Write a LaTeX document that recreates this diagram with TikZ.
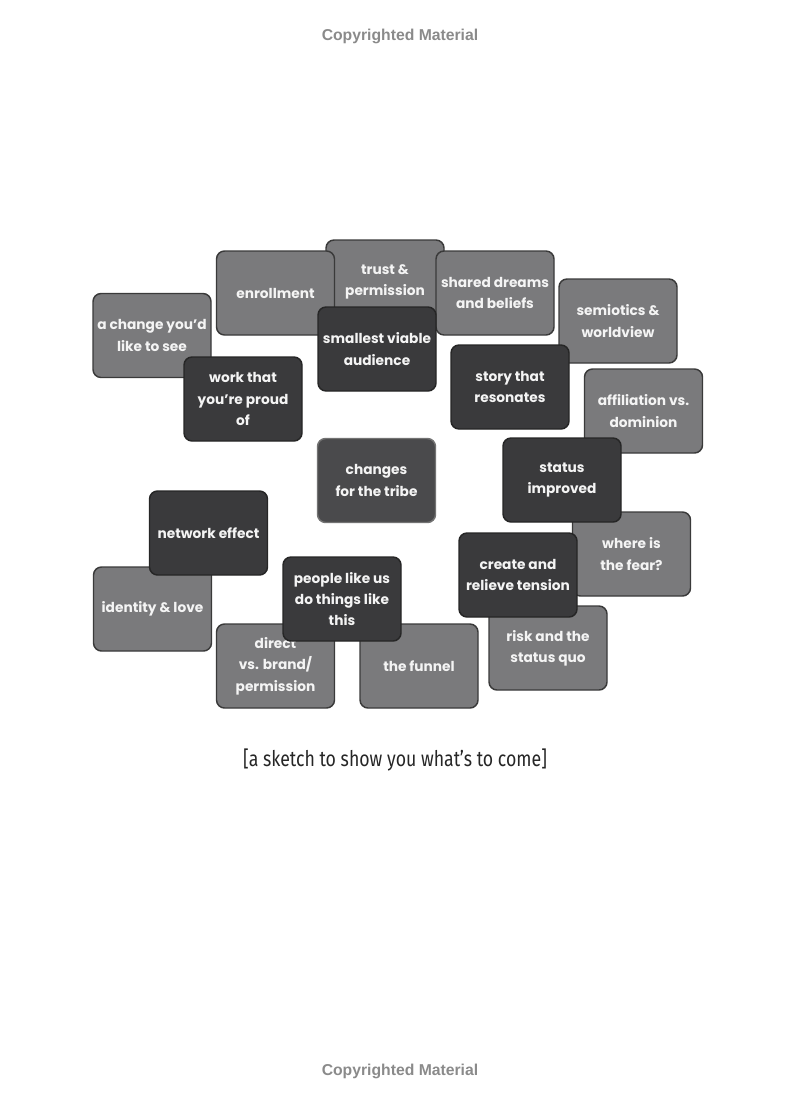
\documentclass[tikz,border=0pt]{standalone}
\usepackage{fontspec}
\setmainfont{Poppins}
\newfontfamily\capfont[FakeStretch=0.82]{Fira Sans}
\newfontfamily\copyfont{Liberation Sans}
\definecolor{lightfill}{HTML}{7A7A7C}
\definecolor{darkfill}{HTML}{3A3A3C}
\definecolor{midfill}{HTML}{4A4A4C}
\definecolor{edgecol}{HTML}{3A3A3A}
\definecolor{txtcol}{HTML}{F4F4F4}
\definecolor{copycol}{HTML}{8A8A8A}
\tikzset{
  box/.style={rectangle, rounded corners=6pt, draw=edgecol, line width=1.1pt,
    minimum width=88.5pt, minimum height=63pt, inner sep=0pt, align=center,
    text=txtcol, font=\fontsize{10.3}{16}\selectfont\bfseries},
  lightbox/.style={box, fill=lightfill},
  darkbox/.style={box, fill=darkfill, draw=black!85},
  midbox/.style={box, fill=midfill, draw=black!55},
  copytext/.style={font=\copyfont\fontsize{11.8}{13}\selectfont\bfseries, text=copycol},
  captext/.style={font=\capfont\fontsize{16.2}{18}\selectfont, text=black!85}
}
\begin{document}
\begin{tikzpicture}[x=0.75pt,y=-0.75pt]
\useasboundingbox (0,0) rectangle (800,1106);
\node[copytext] (cpt) at (400,36) {Copyrighted Material};
\node[copytext] (cpb) at (400,1071) {Copyrighted Material};
% light boxes
\node[lightbox] (trust) at (385,282) {trust \&\\permission};
\node[lightbox] (enroll) at (275.5,293) {enrollment};
\node[lightbox] (shared) at (495,293) {shared dreams\\and beliefs};
\node[lightbox] (change) at (152,335.5) {a change you’d\\like to see};
\node[lightbox] (semio) at (618,321) {semiotics \&\\worldview};
\node[lightbox] (affil) at (643.5,411) {affiliation vs.\\dominion};
\node[lightbox] (fear) at (631.5,554) {where is\\the fear?};
\node[lightbox] (ident) at (152.5,609) {identity \& love};
\node[lightbox] (direct) at (275.5,666) {direct\\vs. brand/\\permission};
\node[lightbox] (funnel) at (419,666) {the funnel};
\node[lightbox] (risk) at (548,648) {risk and the\\status quo};
% dark boxes
\node[darkbox] (smallest) at (377,349) {smallest viable\\audience};
\node[darkbox] (work) at (243,399) {work that\\you’re proud\\of};
\node[darkbox] (story) at (510,387) {story that\\resonates};
\node[midbox] (tribe) at (376.5,480.5) {changes\\for the tribe};
\node[darkbox] (status) at (562,480) {status\\improved};
\node[darkbox] (network) at (208.5,533) {network effect};
\node[darkbox] (people) at (342,599) {people like us\\do things like\\this};
\node[darkbox] (tension) at (518,575) {create and\\relieve tension};
\node[captext] (caption) at (395,760) {[a sketch to show you what’s to come]};
\end{tikzpicture}
\end{document}
